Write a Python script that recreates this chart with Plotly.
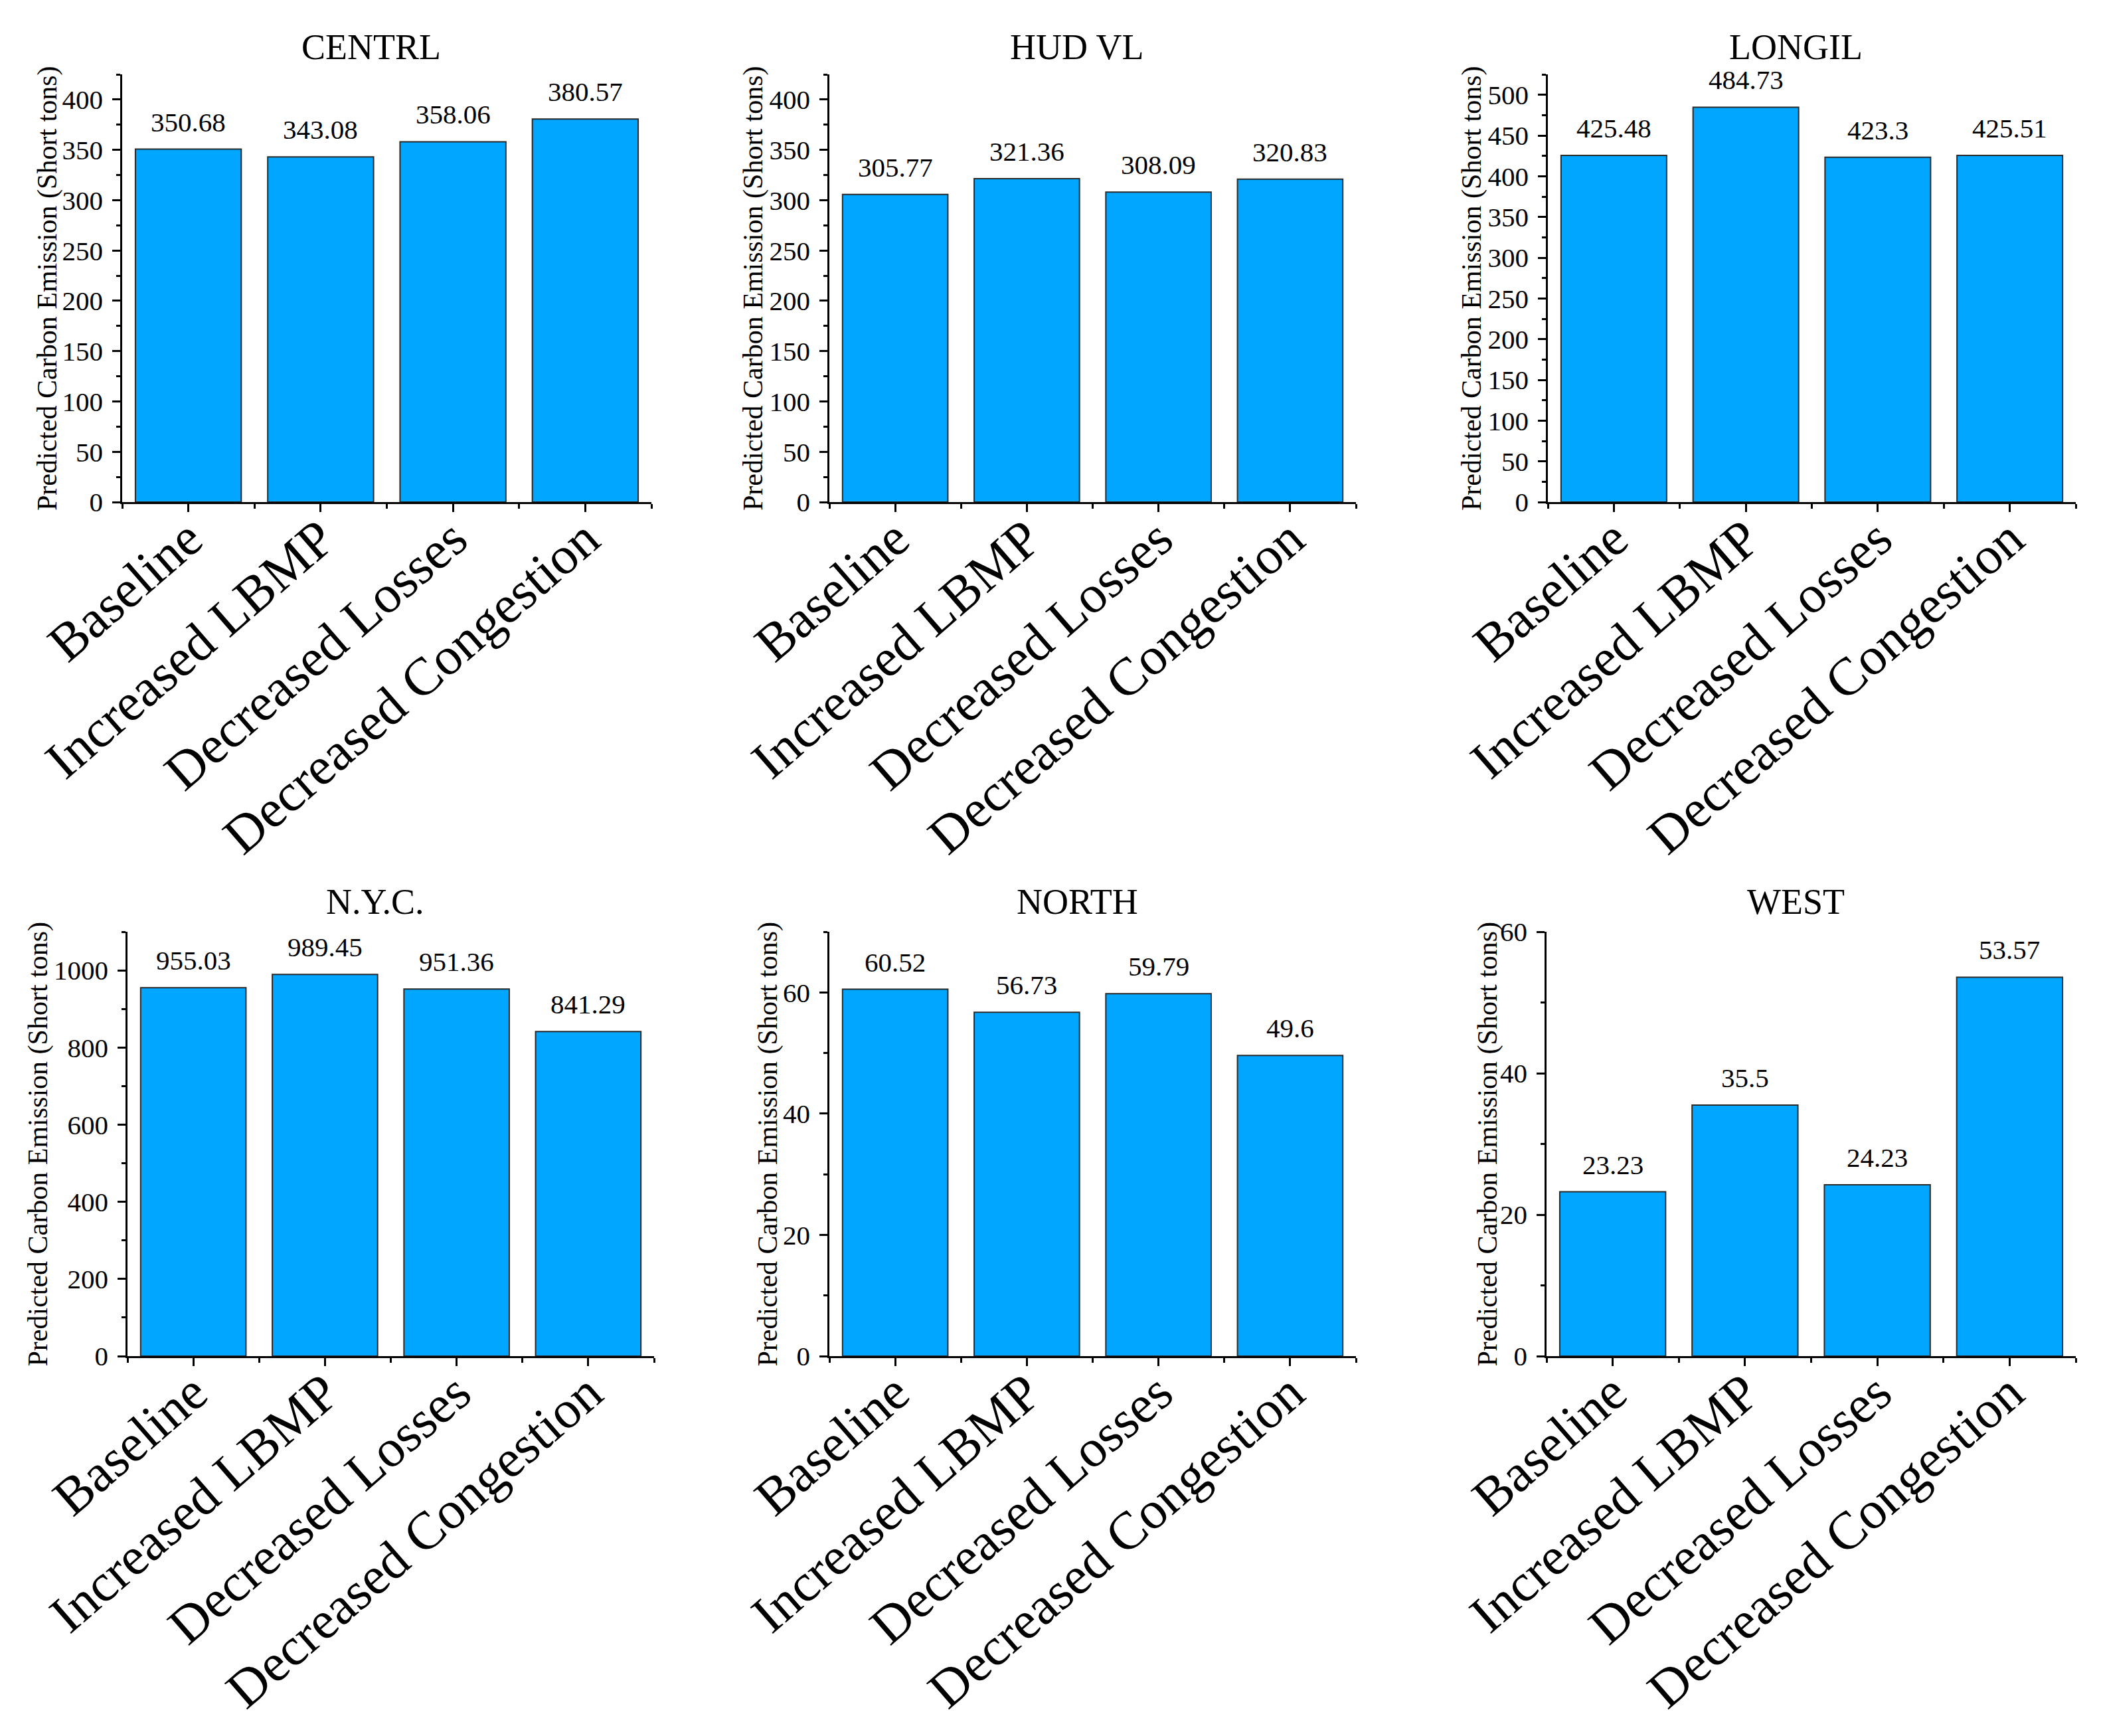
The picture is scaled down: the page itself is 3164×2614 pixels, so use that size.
import plotly.graph_objects as go

# scenarios on the x axis
scenarios = ["Baseline", "Increased LBMP", "Decreased Losses", "Decreased Congestion"]

# predicted carbon emission per zone (short tons)
centrl = [350.68, 343.08, 358.06, 380.57]
hud_vl = [305.77, 321.36, 308.09, 320.83]
longil = [425.48, 484.73, 423.3, 425.51]
nyc = [955.03, 989.45, 951.36, 841.29]
north = [60.52, 56.73, 59.79, 49.6]
west = [23.23, 35.5, 24.23, 53.57]

zones = ["CENTRL", "HUD VL", "LONGIL", "N.Y.C.", "NORTH", "WEST"]
values = [centrl, hud_vl, longil, nyc, north, west]

# y axis: (max, major step, minor step)
y_axes = [(425, 50, 25), (425, 50, 25), (525, 50, 25),
          (1100, 200, 100), (70, 20, 10), (60, 20, 10)]

PAGE_W, PAGE_H = 3164, 2614
OFF = 8  # default body margin of the html page
W, H = PAGE_W - 2 * OFF, PAGE_H - 2 * OFF
FONT = "Liberation Serif"
BAR_COLOR = "#00A6FF"


def px_x(x):
    return (x - OFF) / W


def px_y(y):
    return 1 - (y - OFF) / H


# panel geometry in page pixels
x_px = [(184, 981), (1249, 2042), (2331, 3126),
        (192, 985), (1249, 2042), (2329, 3126)]
y_px = [(756, 112)] * 3 + [(2042, 1403)] * 3
title_px = [(559, 71), (1622, 71), (2704, 71),
            (565, 1358), (1622, 1358), (2704, 1358)]
ytitle_px = [71, 1134, 2216, 57, 1156, 2240]

fig = go.Figure()
xpos = list(range(len(scenarios)))

for i, (zone, vals) in enumerate(zip(zones, values)):
    n = i + 1
    xa = "x" if n == 1 else f"x{n}"
    ya = "y" if n == 1 else f"y{n}"
    fig.add_trace(go.Bar(
        x=xpos, y=vals, xaxis=xa, yaxis=ya,
        width=0.8,
        marker=dict(color=BAR_COLOR, line=dict(color="#2a2a2a", width=2)),
        showlegend=False,
    ))

    ymax, major, minor = y_axes[i]
    axis_common = dict(
        showline=True, linecolor="black", linewidth=2.5,
        showgrid=False, zeroline=False, mirror=False, automargin=False,
        ticks="outside", tickcolor="black", tickwidth=2.5, ticklen=12,
    )
    xd = [px_x(x_px[i][0]), px_x(x_px[i][1])]
    yd = [px_y(y_px[i][0]), px_y(y_px[i][1])]
    fig.layout[f"xaxis{'' if n == 1 else n}"] = dict(
        axis_common,
        domain=xd, anchor=ya,
        range=[-0.5, len(scenarios) - 0.5],
        tickmode="array", tickvals=xpos, ticktext=scenarios,
        tickangle=-41, tickfont=dict(family=FONT, size=80, color="black"),
        ticklabelstandoff=-38,
        minor=dict(ticks="outside", tick0=0.5, dtick=1, ticklen=7,
                   tickwidth=2.5, tickcolor="black", showgrid=False),
    )
    fig.layout[f"yaxis{'' if n == 1 else n}"] = dict(
        axis_common,
        domain=yd, anchor=xa,
        range=[0, ymax], tick0=0, dtick=major,
        tickfont=dict(family=FONT, size=41, color="black"),
        ticklabelstandoff=6,
        minor=dict(ticks="outside", dtick=minor, tick0=0, ticklen=6,
                   tickwidth=2.5, tickcolor="black", showgrid=False),
    )

    # value labels above bars
    for xv, v in zip(xpos, vals):
        fig.add_annotation(
            x=xv, y=v, xref=xa, yref=ya, text=str(v),
            showarrow=False, yanchor="bottom", yshift=16,
            font=dict(family=FONT, size=41, color="black"),
        )

    # panel title
    fig.add_annotation(
        x=px_x(title_px[i][0]), y=px_y(title_px[i][1]),
        xref="paper", yref="paper",
        text=zone, showarrow=False, xanchor="center", yanchor="middle",
        font=dict(family=FONT, size=54, color="black"),
    )

    # y axis title
    fig.add_annotation(
        x=px_x(ytitle_px[i]), y=sum(yd) / 2, xref="paper", yref="paper",
        text="Predicted Carbon Emission (Short tons)", textangle=-90,
        showarrow=False, xanchor="center", yanchor="middle",
        font=dict(family=FONT, size=42, color="black"),
    )

fig.update_layout(
    width=W, height=H,
    margin=dict(l=0, r=0, t=0, b=0),
    paper_bgcolor="white", plot_bgcolor="white",
    bargap=0.2,
)

fig.write_html("out.html")
